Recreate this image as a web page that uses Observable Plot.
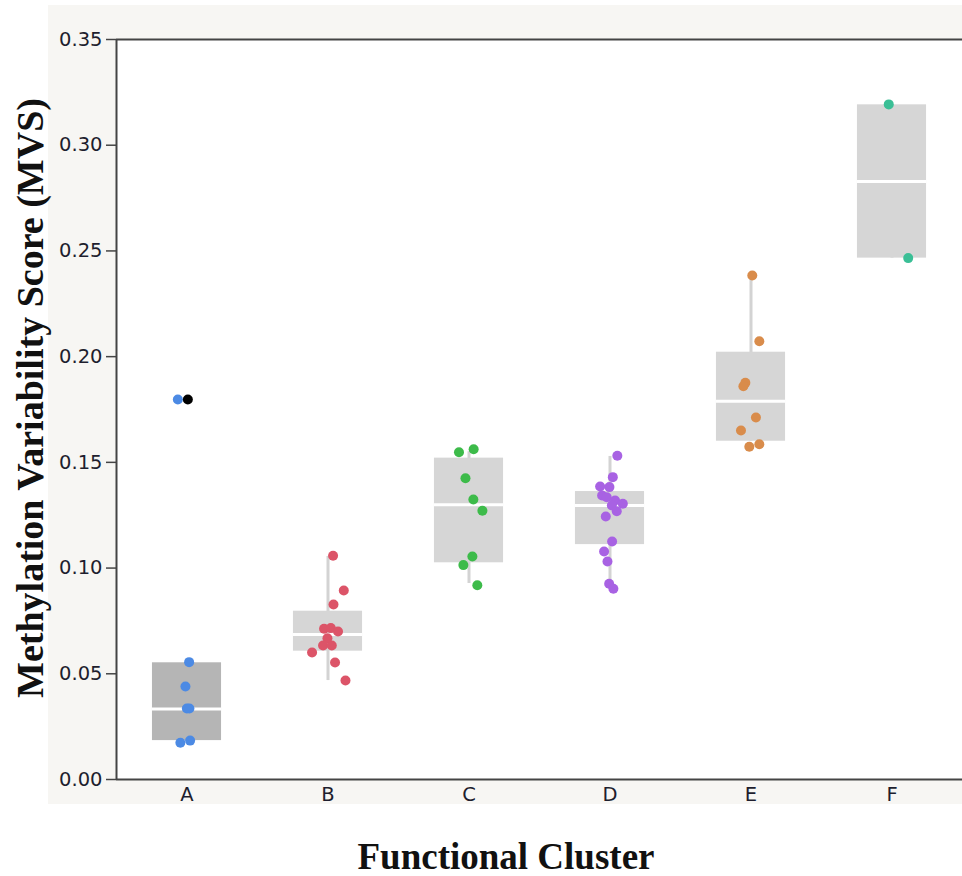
<!DOCTYPE html>
<html><head><meta charset="utf-8">
<script src="https://cdn.jsdelivr.net/npm/d3@7"></script>
<script src="https://cdn.jsdelivr.net/npm/@observablehq/plot@0.6"></script>
<style>
body{margin:0;background:#fff;}
#wrap{position:relative;width:962px;height:876px;overflow:hidden;background:#fff;}
#panel{position:absolute;left:48px;top:5px;width:914px;height:799px;background:#f7f6f3;}
#chart{position:absolute;left:0;top:0;}
.ylab{position:absolute;left:30px;top:398px;transform:translate(-50%,-50%) rotate(-90deg);white-space:nowrap;font:bold 38px/1 "Liberation Serif";color:#111;}
.xlab{position:absolute;left:506px;top:856px;transform:translate(-50%,-50%);white-space:nowrap;font:bold 37px/1 "Liberation Serif";color:#111;}
#chart svg text{font-size:19.5px;}
</style></head>
<body>
<div id="wrap">
  <div id="panel"></div>
  <div id="chart"></div>
  <div class="ylab">Methylation Variability Score (MVS)</div>
  <div class="xlab">Functional Cluster</div>
</div>
<script>
// ---- data ----
const clusters = ["A", "B", "C", "D", "E", "F"];
const yTicks = [0, 0.05, 0.10, 0.15, 0.20, 0.25, 0.30, 0.35];

// box summary per cluster
const boxQ1      = [0.0184, 0.0607, 0.1025, 0.1111, 0.1600, 0.2466];
const boxMedian  = [0.0333, 0.0686, 0.1300, 0.1296, 0.1789, 0.2828];
const boxQ3      = [0.0552, 0.0796, 0.1520, 0.1362, 0.2021, 0.3191];
const whiskerLow = [0.0184, 0.0468, 0.0927, 0.0905, 0.1600, 0.2466];
const whiskerHigh= [0.0552, 0.1055, 0.1550, 0.1528, 0.2384, 0.3191];

// individual genes (value, horizontal jitter in category units)
const valuesA = [0.1797, 0.0555, 0.0440, 0.0336, 0.0336, 0.0174, 0.0184];
const jitterA = [-0.065, 0.015, -0.011, -0.001, 0.017, -0.047, 0.022];
const valuesB = [0.1058, 0.0894, 0.0828, 0.0713, 0.0716, 0.0700, 0.0668, 0.0634, 0.0634, 0.0601, 0.0553, 0.0468];
const jitterB = [0.036, 0.112, 0.039, -0.028, 0.020, 0.071, -0.004, -0.035, 0.027, -0.113, 0.050, 0.124];
const valuesC = [0.1548, 0.1562, 0.1425, 0.1324, 0.1271, 0.1055, 0.1014, 0.0919];
const jitterC = [-0.071, 0.033, -0.025, 0.031, 0.095, 0.024, -0.040, 0.059];
const valuesD = [0.1531, 0.1430, 0.1386, 0.1383, 0.1343, 0.1335, 0.1320, 0.1304, 0.1296, 0.1269, 0.1244, 0.1126, 0.1078, 0.1031, 0.0926, 0.0902];
const jitterD = [0.052, 0.020, -0.070, -0.004, -0.056, -0.023, 0.036, 0.091, 0.013, 0.048, -0.030, 0.015, -0.042, -0.018, -0.006, 0.024];
const valuesE = [0.2384, 0.2073, 0.1876, 0.1860, 0.1712, 0.1651, 0.1586, 0.1574];
const jitterE = [0.009, 0.059, -0.040, -0.054, 0.035, -0.071, 0.059, -0.012];
const valuesF = [0.3193, 0.2466];
const jitterF = [-0.023, 0.115];

// highlighted (selected) gene
const markedCluster = ["A"];
const markedValue = [0.1797];
const markedJitter = [0.006];

// ---- styles ----
const palette = ["#4c8ae4", "#dc5468", "#3dbb4a", "#a862e3", "#d98c4b", "#3bbf96"];
const half = 0.245;

const boxes = clusters.map((c, i) => ({
  i, q1: boxQ1[i], med: boxMedian[i], q3: boxQ3[i], lo: whiskerLow[i], hi: whiskerHigh[i],
  fill: i === 0 ? "#b5b5b5" : "#d6d6d6"
}));

const groups = [[valuesA, jitterA], [valuesB, jitterB], [valuesC, jitterC], [valuesD, jitterD], [valuesE, jitterE], [valuesF, jitterF]];
const points = [];
groups.forEach(([vals, jit], i) => vals.forEach((v, k) => points.push({i, v, j: jit[k], color: palette[i]})));
markedCluster.forEach((c, k) => points.push({i: clusters.indexOf(c), v: markedValue[k], j: markedJitter[k], color: "#000"}));

const chart = Plot.plot({
  width: 962, height: 806,
  marginLeft: 116, marginRight: 0, marginTop: 39, marginBottom: 27,
  style: {background: "transparent", fontFamily: "DejaVu Sans", fontSize: "19.5px", color: "#1e1e2e", overflow: "visible"},
  x: {domain: [-0.5, 5.5], axis: null},
  y: {domain: [0, 0.35], axis: null},
  color: {type: "identity"},
  marks: [
    Plot.frame({fill: "white", stroke: null}),
    Plot.ruleX(boxes, {x: "i", y1: "lo", y2: "hi", stroke: "#d3d3d3", strokeWidth: 3}),
    Plot.rect(boxes, {x1: d => d.i - half, x2: d => d.i + half, y1: "q1", y2: "q3", fill: "fill"}),
    Plot.ruleY(boxes, {y: "med", x1: d => d.i - half, x2: d => d.i + half, stroke: "white", strokeWidth: 3}),
    Plot.dot(points, {x: d => d.i + d.j, y: "v", r: 5, fill: "color", stroke: null}),
    Plot.axisY(yTicks, {tickFormat: d3.format(".2f"), tickSize: 10, tickPadding: 4, label: null, stroke: "#444", strokeWidth: 1.5, fontSize: 19.5}),
    Plot.axisX(d3.range(clusters.length), {tickFormat: i => clusters[i], tickSize: 0, tickPadding: 8, label: null, fontSize: 19.5}),
    Plot.ruleY([0], {stroke: "#444", strokeWidth: 2}),
    Plot.ruleY([0.35], {stroke: "#444", strokeWidth: 2}),
    Plot.ruleX([-0.5], {stroke: "#444", strokeWidth: 2})
  ]
});
document.getElementById("chart").appendChild(chart);
</script>
</body></html>
